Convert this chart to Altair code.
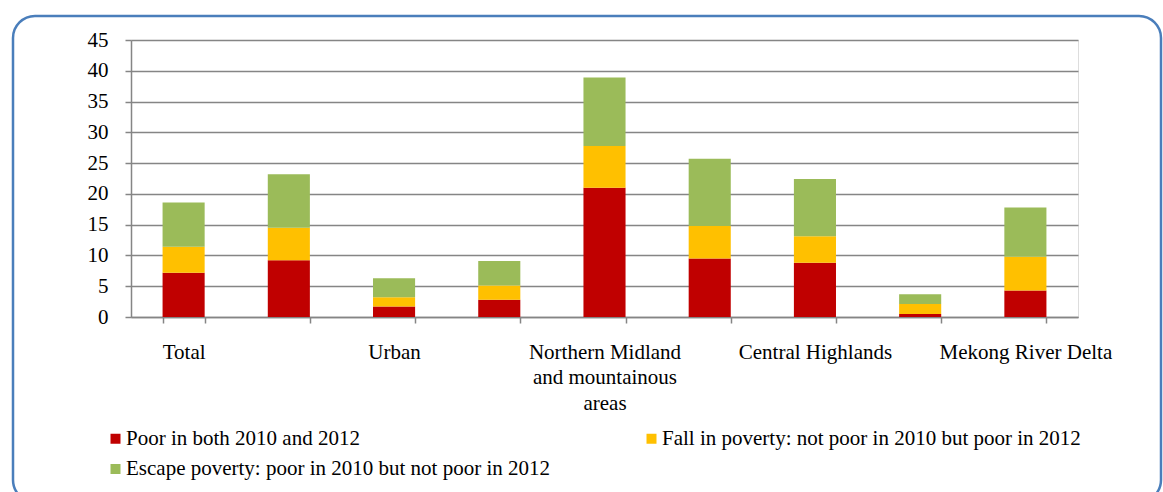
import altair as alt
import pandas as pd

regions = [
    "Total",
    "Rural",
    "Urban",
    "Red River Delta",
    "Northern Midland and mountainous areas",
    "North Central and Central coastal areas",
    "Central Highlands",
    "South East",
    "Mekong River Delta",
]
poor_both = [7.2, 9.2, 1.7, 2.8, 21.0, 9.5, 8.8, 0.5, 4.3]
fall_in = [4.2, 5.3, 1.5, 2.3, 6.8, 5.3, 4.3, 1.6, 5.5]
escape = [7.2, 8.7, 3.1, 4.0, 11.1, 10.9, 9.3, 1.6, 8.0]

series = [
    "Poor in both 2010 and 2012",
    "Fall in poverty: not poor in 2010 but poor in 2012",
    "Escape poverty: poor in 2010 but not poor in 2012",
]
colors = ["#c00000", "#ffc000", "#9bbb59"]
# legend grid fills column by column, so list entries in that order
legend_order = [series[0], series[2], series[1]]
legend_colors = [colors[0], colors[2], colors[1]]

# labels that are visible on the axis (others skipped as in the original)
shown_labels = {
    "Total": "'Total'",
    "Urban": "'Urban'",
    "Northern Midland and mountainous areas": "['Northern Midland', 'and mountainous', 'areas']",
    "Central Highlands": "'Central Highlands'",
    "Mekong River Delta": "'Mekong River Delta'",
}

rows = []
for i, r in enumerate(regions):
    for k, (s, vals) in enumerate(zip(series, [poor_both, fall_in, escape])):
        rows.append({"region": r, "series": s, "value": vals[i], "rank": k})
df = pd.DataFrame(rows)

label_expr = ""
for name, disp in shown_labels.items():
    label_expr += f"datum.value == '{name}' ? {disp} : "
label_expr += "''"

FONT = "'Liberation Serif', 'Times New Roman', Times, serif"
FS = 21
GRAY = "#858585"

bars = alt.Chart(df).mark_bar().encode(
    x=alt.X(
        "region:N",
        sort=regions,
        title=None,
        scale=alt.Scale(paddingInner=0.6, paddingOuter=0.3),
        axis=alt.Axis(
            labelAngle=0,
            labelExpr=label_expr,
            tickBand="extent",
            tickColor=GRAY,
            tickWidth=1.5,
            tickSize=6,
            domainColor=GRAY,
            domainWidth=1.5,
            labelPadding=18,
            labelLineHeight=25.5,
            labelFontSize=FS,
            labelFont=FONT,
            labelColor="#000000",
            labelBaseline="top",
            grid=False,
        ),
    ),
    y=alt.Y(
        "value:Q",
        stack="zero",
        title=None,
        scale=alt.Scale(domain=[0, 45], nice=False),
        axis=alt.Axis(
            values=list(range(0, 50, 5)),
            grid=True,
            gridColor=GRAY,
            gridWidth=1.6,
            tickColor=GRAY,
            tickWidth=1.5,
            tickSize=6,
            domainColor=GRAY,
            domainWidth=1.5,
            labelPadding=17,
            labelFontSize=FS,
            labelFont=FONT,
            labelColor="#000000",
        ),
    ),
    color=alt.Color(
        "series:N",
        sort=legend_order,
        scale=alt.Scale(domain=legend_order, range=legend_colors),
        legend=alt.Legend(
            title=None,
            orient="none",
            legendX=-26,
            legendY=388,
            columns=2,
            columnPadding=90,
            rowPadding=8.5,
            symbolType="square",
            symbolSize=100,
            symbolStrokeWidth=0,
            labelOffset=0,
            labelFontSize=FS,
            labelFont=FONT,
            labelColor="#000000",
            labelLimit=600,
            padding=0,
        ),
    ),
    order=alt.Order("rank:Q", sort="ascending"),
)

frame = alt.Chart(pd.DataFrame({"f": [0]})).mark_rect(
    filled=False,
    stroke="#4a7ebb",
    strokeWidth=2.5,
    cornerRadius=22,
).encode(
    x=alt.value(-118),
    x2=alt.value(1030),
    y=alt.value(-24),
    y2=alt.value(462),
)

chart = (
    alt.layer(frame, bars)
    .properties(
        width=947,
        height=277,
        autosize=alt.AutoSizeParams(type="none"),
        padding={"left": 131, "top": 40, "right": 85, "bottom": 175},
    )
    .configure_view(stroke=None)
    .configure(background="#ffffff", font=FONT)
)

chart.save("out.html", embed_options={"renderer": "svg", "actions": False})
